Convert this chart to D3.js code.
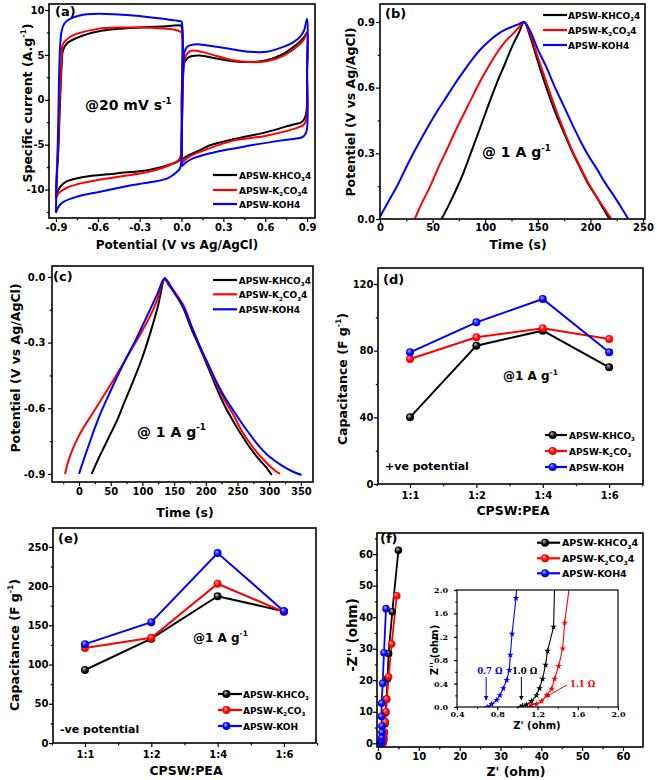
<!DOCTYPE html>
<html><head><meta charset="utf-8">
<script src="https://cdn.jsdelivr.net/npm/d3@7"></script>
<style>
body{margin:0;background:#fff}
svg{display:block}
text{font-family:"DejaVu Sans",sans-serif;font-weight:bold}
</style>
</head><body>
<script>
// ---------------- DATA ----------------
const seriesColors = ["#000000", "#ff0000", "#0000ff"];
const legendCV = ["APSW-KHCO_{3}4", "APSW-K_{2}CO_{3}4", "APSW-KOH4"];
const legendCap = ["APSW-KHCO_{3}", "APSW-K_{2}CO_{3}", "APSW-KOH"];

// (a) CV at 20 mV/s : [potential, current]
const cvLeftKHCO3 = [[-0.9,-10.8],[-0.895,-8.5],[-0.883,-5.6],[-0.875,-2],[-0.87,0],[-0.865,2],[-0.86,3.6],[-0.85,5.5],[-0.82,6.3],[-0.75,6.9],[-0.6,7.6],[-0.45,7.9],[-0.3,8.05],[-0.15,8.15],[-0.01,8.28],[0,8.2],[0.002,0],[-0.005,-6.3],[-0.02,-6.8],[-0.06,-7.1],[-0.226,-7.8],[-0.465,-8.2],[-0.704,-8.6],[-0.823,-9.1],[-0.87,-9.7],[-0.9,-10.8]];
const cvLeftK2CO3 = [[-0.9,-11],[-0.895,-8.5],[-0.885,-5],[-0.875,-1],[-0.868,2],[-0.86,4.5],[-0.85,6.2],[-0.8,7.0],[-0.75,7.35],[-0.6,7.9],[-0.45,8.05],[-0.3,8.05],[-0.15,7.95],[-0.05,7.8],[-0.01,7.6],[0,7.5],[0.002,0],[-0.005,-6.2],[-0.02,-6.7],[-0.06,-7.1],[-0.226,-8.0],[-0.465,-8.6],[-0.704,-9.25],[-0.823,-9.8],[-0.88,-10.4],[-0.9,-11]];
const cvLeftKOH = [[-0.9,-12.6],[-0.897,-10],[-0.89,-7],[-0.883,-2],[-0.876,3.6],[-0.868,6.5],[-0.86,7.6],[-0.84,8.5],[-0.8,9.0],[-0.73,9.4],[-0.6,9.58],[-0.45,9.5],[-0.35,9.4],[-0.2,9.15],[-0.1,8.95],[-0.01,8.76],[0,8.7],[0.002,0],[-0.003,-7],[-0.01,-7.6],[-0.03,-8.0],[-0.1,-8.75],[-0.35,-9.5],[-0.585,-10.25],[-0.75,-10.8],[-0.85,-11.4],[-0.885,-12],[-0.9,-12.6]];
const cvRightKHCO3 = [[0,-6.7],[0.003,-3],[0.008,1],[0.012,3],[0.02,4.1],[0.04,4.6],[0.07,4.85],[0.13,4.94],[0.25,4.6],[0.37,4.3],[0.49,4.2],[0.61,4.4],[0.73,5.1],[0.8,5.85],[0.85,6.5],[0.88,7.0],[0.9,7.5],[0.9,3],[0.898,-1.0],[0.885,-2.0],[0.86,-2.5],[0.8,-2.75],[0.61,-3.6],[0.37,-4.4],[0.2,-5.1],[0.133,-5.6],[0.06,-6.1],[0.025,-6.4],[0,-6.7]];
const cvRightK2CO3 = [[0,-7.0],[0.003,-3],[0.01,2],[0.02,4.4],[0.035,5.0],[0.06,5.4],[0.09,5.5],[0.18,5.2],[0.37,4.4],[0.49,4.2],[0.61,4.3],[0.73,4.9],[0.85,6.2],[0.88,6.8],[0.9,7.4],[0.9,3],[0.898,-1.9],[0.88,-2.7],[0.85,-3.0],[0.61,-4.0],[0.37,-4.55],[0.133,-5.8],[0.06,-6.3],[0.025,-6.7],[0,-7.0]];
const cvRightKOH = [[0,-7.4],[0.003,-3],[0.01,3],[0.02,5.2],[0.035,5.8],[0.06,6.06],[0.133,6.17],[0.252,5.9],[0.371,5.6],[0.49,5.35],[0.61,5.35],[0.73,5.9],[0.8,6.4],[0.85,7.0],[0.88,7.8],[0.9,9.0],[0.9,3],[0.898,-3.4],[0.88,-4.0],[0.86,-4.2],[0.73,-4.5],[0.49,-5.1],[0.25,-5.8],[0.086,-6.5],[0.03,-7.0],[0,-7.4]];

// (b) GCD positive window : [time, potential]
const gcdPosKHCO3 = [[58.5,0],[65,0.06],[72,0.13],[79.2,0.21],[87,0.31],[95,0.414],[103,0.52],[110.9,0.62],[118,0.7],[126.7,0.8],[132,0.85],[137,0.9],[142.6,0.835],[150,0.72],[158.5,0.595],[166,0.495],[174.3,0.4],[182,0.315],[190.1,0.235],[198,0.16],[206,0.1],[212,0.05],[218,0]];
const gcdPosK2CO3 = [[33,0],[40,0.075],[47.5,0.147],[55,0.23],[63.4,0.315],[71,0.395],[79.2,0.475],[87,0.55],[95,0.627],[103,0.695],[110.9,0.757],[119,0.81],[126.7,0.848],[132,0.875],[137,0.9],[142.6,0.848],[150,0.74],[158.5,0.62],[166,0.515],[174.3,0.41],[182,0.32],[190.1,0.24],[198,0.165],[206,0.1],[213,0.05],[220,0]];
const gcdPosKOH = [[0,0.01],[8,0.08],[15.9,0.147],[23.8,0.225],[31.7,0.3],[39.6,0.37],[47.5,0.437],[55.4,0.5],[63.4,0.559],[71.3,0.618],[79.2,0.673],[87,0.725],[95,0.772],[103,0.81],[110.9,0.841],[119,0.865],[126.7,0.88],[132,0.89],[137,0.9],[142.6,0.86],[150,0.775],[158.5,0.69],[166,0.605],[174.3,0.52],[182,0.44],[190.1,0.36],[198,0.29],[206,0.23],[214,0.165],[221.8,0.11],[229,0.055],[236,0]];

// (c) GCD negative window : [time, potential]
const gcdNegKHCO3 = [[20,-0.9],[30,-0.835],[40,-0.775],[50,-0.715],[59.3,-0.66],[72,-0.57],[85.6,-0.475],[99,-0.375],[112,-0.26],[124,-0.14],[135.5,-0.005],[140,-0.03],[150,-0.07],[164.5,-0.142],[177,-0.235],[190.8,-0.325],[204,-0.415],[217,-0.508],[230,-0.59],[243.4,-0.66],[256,-0.72],[269.7,-0.78],[283,-0.83],[296,-0.872],[304,-0.905]];
const gcdNegK2CO3 = [[-22,-0.9],[-17,-0.843],[-9,-0.78],[0,-0.725],[6.8,-0.69],[20,-0.63],[33,-0.57],[46,-0.51],[59.3,-0.447],[72,-0.385],[85.6,-0.317],[99,-0.25],[112,-0.18],[124,-0.1],[134,-0.012],[138,-0.02],[150,-0.065],[164.5,-0.128],[177,-0.22],[190.8,-0.318],[204,-0.405],[217,-0.49],[230,-0.565],[243.4,-0.63],[256,-0.7],[269.7,-0.76],[283,-0.81],[296,-0.85],[307,-0.88],[317,-0.9]];
const gcdNegKOH = [[0,-0.9],[8,-0.83],[17.4,-0.752],[25,-0.69],[33,-0.63],[46,-0.545],[59.3,-0.462],[72,-0.385],[85.6,-0.31],[99,-0.23],[112,-0.15],[124,-0.075],[134.5,-0.008],[140,-0.02],[150,-0.07],[164.5,-0.135],[177,-0.225],[190.8,-0.318],[204,-0.4],[217,-0.48],[230,-0.55],[243.4,-0.61],[256,-0.665],[269.7,-0.72],[283,-0.77],[296,-0.81],[309,-0.84],[322,-0.866],[336,-0.888],[351,-0.905]];

// (d),(e) capacitance vs ratio
const ratios = ["1:1", "1:2", "1:4", "1:6"];
const capPosKHCO3 = [40, 83, 92, 70];
const capPosK2CO3 = [75, 88, 93.5, 87];
const capPosKOH = [79, 97, 111, 79];
const capNegKHCO3 = [93, 133, 187, 168];
const capNegK2CO3 = [121, 134, 203, 167];
const capNegKOH = [126, 154, 242, 168];

// (f) Nyquist : [Z', -Z'']
const eisKHCO3 = [[1.05,0],[1.2,0.2],[1.3,0.6],[1.4,1.5],[1.5,3.2],[1.7,6.2],[1.9,9.8],[2.1,14],[2.35,20.5],[2.6,28.5],[3.5,41.7],[5.0,61.2]];
const eisK2CO3 = [[1.12,0],[1.25,0.1],[1.4,0.7],[1.5,1.6],[1.6,3.6],[1.8,6.8],[1.96,10],[2.15,14],[2.6,21.1],[3.35,31.5],[4.6,46.8]];
const eisKOH = [[0.7,0],[0.78,0.15],[0.85,0.45],[0.9,0.9],[0.95,1.9],[0.98,3.5],[0.95,5.5],[0.85,8.5],[0.9,12.7],[1.15,19],[1.47,28.7],[1.96,42.7]];
// (f) inset : [Z', Z'']
const insetKHCO3 = [[1.03,0],[1.05,0.02],[1.09,0.04],[1.14,0.1],[1.19,0.2],[1.22,0.32],[1.25,0.48],[1.28,0.72],[1.30,0.96],[1.36,1.37],[1.37,2.1]];
const insetK2CO3 = [[1.12,0],[1.14,0.04],[1.19,0.05],[1.24,0.1],[1.29,0.2],[1.34,0.31],[1.37,0.48],[1.41,0.7],[1.45,1.0],[1.47,1.44],[1.52,2.1]];
const insetKOH = [[0.70,0],[0.745,0.05],[0.795,0.12],[0.827,0.2],[0.86,0.32],[0.894,0.46],[0.92,0.63],[0.93,0.89],[0.947,1.25],[0.986,1.86],[0.995,2.1]];
const rsLabels = ["1.0 Ω", "1.1 Ω", "0.7 Ω"];

// tick values
const aXTicks = [-0.9,-0.6,-0.3,0,0.3,0.6,0.9], aYTicks = [-10,-5,0,5,10];
const bXTicks = [0,50,100,150,200,250], bYTicks = [0,0.3,0.6,0.9];
const cXTicks = [0,50,100,150,200,250,300,350], cYTicks = [0,-0.3,-0.6,-0.9];
const dYTicks = [0,40,80,120], eYTicks = [0,50,100,150,200,250];
const fTicks = [0,10,20,30,40,50,60], insetTicks = [0.4,0.8,1.2,1.6,2.0], insetYTicks = [0,0.4,0.8,1.2,1.6,2.0];

// ---------------- DRAW ----------------
const svg = d3.select("body").append("svg").attr("width", 657).attr("height", 780);
const defs = svg.append("defs");
const light = ["#c8c8c8", "#ffb0b0", "#b0b0ff"];
seriesColors.forEach((c, i) => {
  const rg = defs.append("radialGradient").attr("id", "sph" + i).attr("cx", "0.5").attr("cy", "0.5").attr("r", "0.6").attr("fx", "0.35").attr("fy", "0.3");
  rg.append("stop").attr("offset", "0").attr("stop-color", light[i]);
  rg.append("stop").attr("offset", "0.55").attr("stop-color", c);
  defs.append("marker").attr("id", "arr" + i).attr("viewBox", "0 0 10 10").attr("refX", 9).attr("refY", 5)
    .attr("markerWidth", 5).attr("markerHeight", 5).attr("orient", "auto")
    .append("path").attr("d", "M0,0L10,5L0,10z").attr("fill", c);
});

function rich(sel, str, fs) {
  const re = /([_^])\{([^}]*)\}/g; let last = 0, m, parts = [];
  while ((m = re.exec(str))) { if (m.index > last) parts.push({t: str.slice(last, m.index)}); parts.push({t: m[2], k: m[1]}); last = re.lastIndex; }
  if (last < str.length) parts.push({t: str.slice(last)});
  let cur = 0;
  sel.attr("font-size", fs);
  parts.forEach(p => {
    const off = p.k === "_" ? fs * 0.3 : p.k === "^" ? -fs * 0.45 : 0;
    sel.append("tspan").attr("dy", off - cur).attr("font-size", p.k ? fs * 0.62 : fs).text(p.t);
    cur = off;
  });
  return sel;
}
function txt(x, y, str, fs, opt = {}) {
  const t = svg.append("text").attr("x", x).attr("y", y).attr("fill", opt.fill || "#000").attr("text-anchor", opt.anchor || "start");
  if (opt.family) t.style("font-family", opt.family);
  return rich(t, str, fs);
}
function vtxt(x, cy, str, fs) {
  const t = svg.append("text").attr("transform", `translate(${x},${cy}) rotate(-90)`).attr("text-anchor", "middle");
  return rich(t, str, fs);
}

function panel(o) {
  const g = svg.append("g").attr("transform", `translate(${o.l},${o.t})`);
  const w = o.r - o.l, h = o.b - o.t;
  const x = d3.scaleLinear().domain(o.xd).range([0, w]);
  const y = d3.scaleLinear().domain(o.yd).range([h, 0]);
  const fs = o.fs || 10, ts = o.ts || 4;
  const ax = g.append("g").attr("transform", `translate(0,${h})`)
    .call(d3.axisBottom(x).tickValues(o.xt).tickSize(ts).tickPadding(o.xs - ts).tickFormat(o.xf));
  const ay = g.append("g")
    .call(d3.axisLeft(y).tickValues(o.yt).tickSize(ts).tickPadding(o.ys - ts).tickFormat(o.yf));
  const mx = g.append("g").attr("transform", `translate(0,${h})`).call(d3.axisBottom(x).tickValues(o.xm).tickSize(ts * 0.55).tickFormat(""));
  const my = g.append("g").call(d3.axisLeft(y).tickValues(o.ym).tickSize(ts * 0.55).tickFormat(""));
  [ax, ay, mx, my].forEach(a => {
    a.select(".domain").remove();
    a.selectAll("line").attr("stroke", "#000").attr("stroke-width", 1.2);
    a.selectAll("text").attr("font-size", fs).attr("fill", "#000")
      .style("font-family", o.family || "DejaVu Sans").style("font-weight", "bold");
  });
  const cid = "clip" + Math.random().toString(36).slice(2);
  defs.append("clipPath").attr("id", cid).append("rect").attr("width", w).attr("height", h);
  const plot = g.append("g").attr("clip-path", `url(#${cid})`);
  g.append("rect").attr("width", w).attr("height", h).attr("fill", "none").attr("stroke", "#000").attr("stroke-width", o.fw || 1.6);
  return {g, plot, x, y, w, h};
}
const fmt1 = d => d.toFixed(1).replace("-0.0", "0.0");
const fmt0 = d => String(d);
const range = (a, b, s) => d3.range(a, b + 1e-9, s);

function curves(p, sets, width, curve) {
  const line = d3.line().x(d => p.x(d[0])).y(d => p.y(d[1])).curve(curve || d3.curveCatmullRom.alpha(0.5));
  sets.forEach((arr, i) => p.plot.append("path").datum(arr).attr("d", line).attr("fill", "none")
    .attr("stroke", seriesColors[i % 3]).attr("stroke-width", width).attr("stroke-linejoin", "round"));
}
function legend(x0, x1, ys, tx, labels, marker, fs) {
  labels.forEach((lb, i) => {
    svg.append("line").attr("x1", x0).attr("x2", x1).attr("y1", ys[i]).attr("y2", ys[i]).attr("stroke", seriesColors[i]).attr("stroke-width", 2.2);
    if (marker) svg.append("circle").attr("cx", x0 + (x1 - x0) * 0.35).attr("cy", ys[i]).attr("r", 4).attr("fill", `url(#sph${i})`);
    txt(tx, ys[i] + 3.5, lb, fs);
  });
}

// ---- (a) ----
const pa = panel({l: 49, t: 4, r: 315, b: 218, xd: [-0.95, 0.957], yd: [-13.17, 10.67], xt: aXTicks, yt: aYTicks,
  xm: range(-0.75, 0.75, 0.3), ym: range(-12.5, 7.5, 5), xf: fmt1, yf: fmt0, xs: 5.5, ys: 4.5});
curves(pa, [cvLeftKHCO3, cvLeftK2CO3, cvLeftKOH], 2);
curves(pa, [cvRightKHCO3, cvRightK2CO3, cvRightKOH], 2);
txt(55, 16, "(a)", 13);
txt(85, 110, "@20 mV s^{-1}", 14);
legend(213, 237, [175, 190, 204], 239, legendCV, false, 9);
vtxt(32, 103, "Specific current (A.g^{-1})", 12.5);
txt(177, 249, "Potential (V vs Ag/AgCl)", 12, {anchor: "middle"});

// ---- (b) ----
const pb = panel({l: 380, t: 4, r: 645, b: 219, xd: [0, 251.9], yd: [0, 0.982], xt: bXTicks, yt: bYTicks,
  xm: range(25, 225, 50), ym: range(0.15, 0.75, 0.3), xf: fmt0, yf: fmt1, xs: 4.5, ys: 5});
curves(pb, [gcdPosKHCO3, gcdPosK2CO3, gcdPosKOH], 2);
txt(385, 18, "(b)", 13);
txt(482, 157, "@ 1 A g^{-1}", 14);
legend(543, 567, [15, 30, 45], 568, legendCV, false, 9);
vtxt(355, 112, "Potentiel (V vs Ag/AgCl)", 12.5);
txt(518, 249, "Time (s)", 12.5, {anchor: "middle"});

// ---- (c) ----
const pc = panel({l: 52, t: 266, r: 313, b: 482, xd: [-42.6, 369.1], yd: [-0.937, 0.05], xt: cXTicks, yt: cYTicks,
  xm: range(-25, 325, 50), ym: range(-0.75, -0.15, 0.3), xf: fmt0, yf: fmt1, xs: 6, ys: 6.5});
curves(pc, [gcdNegKHCO3, gcdNegK2CO3, gcdNegKOH], 2);
txt(53, 281, "(c)", 13);
txt(137, 436.5, "@ 1 A g^{-1}", 14);
legend(213, 237, [280, 294.3, 309.3], 238.7, legendCV, false, 9);
vtxt(20, 368, "Potentiel (V vs Ag/AgCl)", 12.5);
txt(185, 517, "Time (s)", 12.5, {anchor: "middle"});

// ---- (d),(e) ----
function capPanel(o, sets, lab, note, notePos, atPos, legPos) {
  const p = panel(Object.assign({xd: [-0.482, 3.51], xt: [0, 1, 2, 3], xm: [-0.5, 0.5, 1.5, 2.5, 3.5], xf: i => ratios[i], yf: fmt0, ys: 4.5, xs: 7.5}, o));
  const line = d3.line().x((d, i) => p.x(i)).y(d => p.y(d));
  sets.forEach((arr, k) => {
    p.plot.append("path").datum(arr).attr("d", line).attr("fill", "none").attr("stroke", seriesColors[k]).attr("stroke-width", 2);
  });
  sets.forEach((arr, k) => {
    p.plot.selectAll(null).data(arr).enter().append("circle").attr("cx", (d, i) => p.x(i)).attr("cy", d => p.y(d)).attr("r", 4).attr("fill", `url(#sph${k})`);
  });
  txt(lab[0], lab[1], lab[2], 13);
  txt(atPos[0], atPos[1], "@1 A g^{-1}", 12);
  txt(notePos[0], notePos[1], note, 11);
  legend(legPos[0], legPos[1], legPos[2], legPos[3], legendCap, true, 9);
  return p;
}
capPanel({l: 378, t: 268, r: 643, b: 484, yd: [0, 129.6], yt: dYTicks, ym: [20, 60, 100]},
  [capPosKHCO3, capPosK2CO3, capPosKOH], [383, 284, "(d)"], "+ve potential", [385, 470], [503, 380], [545, 567, [435, 451, 467], 569]);
vtxt(347, 379, "Capacitance (F g^{-1})", 12.5);
txt(513, 514.5, "CPSW:PEA", 12.5, {anchor: "middle"});

capPanel({l: 53, t: 528, r: 316, b: 743, xd: [-0.482, 3.483], yd: [0, 274], yt: eYTicks, ym: range(25, 225, 50)},
  [capNegKHCO3, capNegK2CO3, capNegKOH], [58, 543, "(e)"], "-ve potential", [60, 733], [193, 641.5], [218, 242, [694, 710, 726], 243]);
vtxt(19, 645, "Capacitance (F g^{-1})", 12.5);
txt(186, 775, "CPSW:PEA", 12.5, {anchor: "middle"});

// ---- (f) ----
const pf = panel({l: 377, t: 533, r: 643, b: 747, xd: [-0.24, 64.9], yd: [-1.17, 66.7], xt: fTicks, yt: fTicks,
  xm: range(5, 55, 10), ym: range(5, 65, 10), xf: fmt0, yf: fmt0, xs: 5.5, ys: 4});
const eisSets = [eisKHCO3, eisK2CO3, eisKOH];
curves(pf, eisSets, 1.8, d3.curveLinear);
eisSets.forEach((arr, k) => pf.plot.selectAll(null).data(arr).enter().append("circle")
  .attr("cx", d => pf.x(d[0])).attr("cy", d => pf.y(d[1])).attr("r", 3.8).attr("fill", `url(#sph${k})`));
txt(380, 543, "(f)", 13);
legend(537, 560, [542.7, 558.3, 573.3], 562, legendCV, true, 9.5);
vtxt(357, 635, "-Z'' (ohm)", 13.5);
txt(516, 775.5, "Z' (ohm)", 12.5, {anchor: "middle"});

// inset
const pi = panel({l: 457, t: 590, r: 618, b: 707, xd: [0.4, 2.0], yd: [0, 2.0], xt: insetTicks, yt: insetYTicks,
  xm: range(0.6, 1.8, 0.4), ym: range(0.2, 1.8, 0.4), xf: fmt1, yf: fmt1, xs: 4, ys: 9, ts: 3, fs: 8, fw: 1.2, family: "DejaVu Serif"});
const inSets = [insetKHCO3, insetK2CO3, insetKOH];
curves(pi, inSets, 1.1, d3.curveLinear);
inSets.forEach((arr, k) => pi.plot.selectAll(null).data(arr).enter().append("path")
  .attr("transform", d => `translate(${pi.x(d[0])},${pi.y(d[1])})`)
  .attr("d", d3.symbol(d3.symbolStar, 14)).attr("fill", seriesColors[k]));
vtxt(438, 650, "Z'' (ohm)", 10);
txt(537, 729, "Z' (ohm)", 10, {anchor: "middle"});
// Rs annotations
const annX = [insetKHCO3[0][0], 1.28, insetKOH[0][0]];
txt(pi.x(1.03) + 457 - 8.5, 673.5, rsLabels[0], 8.5, {family: "DejaVu Serif"});
txt(pi.x(0.7) + 457 - 10, 673.5, rsLabels[2], 8.5, {fill: seriesColors[2], family: "DejaVu Serif"});
txt(570, 687, rsLabels[1], 8.5, {fill: seriesColors[1], family: "DejaVu Serif"});
svg.append("line").attr("x1", 457 + pi.x(1.04)).attr("x2", 457 + pi.x(1.04)).attr("y1", 677).attr("y2", 700)
  .attr("stroke", seriesColors[0]).attr("stroke-width", 1).attr("marker-end", "url(#arr0)");
svg.append("line").attr("x1", 457 + pi.x(0.69)).attr("x2", 457 + pi.x(0.69)).attr("y1", 677).attr("y2", 700)
  .attr("stroke", seriesColors[2]).attr("stroke-width", 1).attr("marker-end", "url(#arr2)");
svg.append("line").attr("x1", 567).attr("x2", 457 + pi.x(annX[1])).attr("y1", 685).attr("y2", 697)
  .attr("stroke", seriesColors[1]).attr("stroke-width", 1).attr("marker-end", "url(#arr1)");
</script>
</body></html>
